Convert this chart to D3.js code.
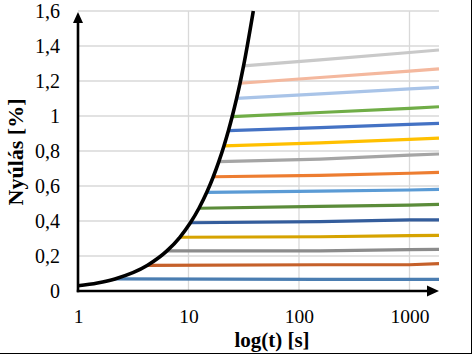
<!DOCTYPE html>
<html>
<head>
<meta charset="utf-8">
<script src="https://cdn.jsdelivr.net/npm/d3@7"></script>
<style>
  html, body { margin: 0; padding: 0; background: #fff; }
  svg { display: block; }
  svg text { font-family: "Liberation Serif", "Times New Roman", "DejaVu Serif", serif; fill: #000; }
</style>
</head>
<body>
<script>
// ---- data ----
const xTicks = [1, 10, 100, 1000];
const yTicks = [0, 0.2, 0.4, 0.6, 0.8, 1, 1.2, 1.4, 1.6];
const yTickLabels = ["0", "0,2", "0,4", "0,6", "0,8", "1", "1,2", "1,4", "1,6"];

// black loading curve
const curveT = [1, 1.5, 2.16, 4.26, 6.38, 8.35, 10.4, 12.44, 14.64, 16.77, 18.81, 20.93, 22.97, 24.83, 27.26, 29.25, 31.5, 38.6];
const curveV = [0.03, 0.046, 0.069, 0.147, 0.229, 0.307, 0.39, 0.473, 0.564, 0.653, 0.739, 0.829, 0.916, 0.996, 1.101, 1.187, 1.286, 1.6];

// creep series: start time, values at start / t=155 / t=1000 / end
const seriesStart = [2.16, 4.26, 6.38, 8.35, 10.4, 12.44, 14.64, 16.77, 18.81, 20.93, 22.97, 24.83, 27.26, 29.25, 31.5];
const sampleT = [155, 1000, 1850];
const sStartV = [0.069, 0.147, 0.229, 0.307, 0.39, 0.473, 0.564, 0.653, 0.739, 0.829, 0.916, 0.996, 1.101, 1.187, 1.286];
const sV155   = [0.067, 0.150, 0.229, 0.310, 0.396, 0.484, 0.571, 0.661, 0.754, 0.846, 0.934, 1.020, 1.126, 1.220, 1.321];
const sV1000  = [0.067, 0.150, 0.236, 0.316, 0.406, 0.491, 0.577, 0.673, 0.776, 0.866, 0.952, 1.044, 1.155, 1.256, 1.363];
const sVEnd   = [0.067, 0.156, 0.238, 0.318, 0.406, 0.495, 0.581, 0.678, 0.783, 0.874, 0.958, 1.053, 1.164, 1.269, 1.377];
const seriesColors = ["#4a7db1", "#c5602a", "#8c8c8c", "#d6a300", "#345d9c", "#5b8c3a", "#5b9bd5", "#ed7d31",
                      "#a5a5a5", "#ffc000", "#4472c4", "#70ad47", "#a9c4e8", "#f4b89e", "#c9c9c9"];

// ---- layout ----
const W = 473, H = 355;
const mLeft = 78, mRight = 439, mTop = 11, mBottom = 291;
const serif = '"Liberation Serif", "Times New Roman", "DejaVu Serif", serif';

const svg = d3.select("body").append("svg").attr("width", W).attr("height", H);

const x = d3.scaleLog().domain([1, 1850]).range([mLeft, mRight]);
const y = d3.scaleLinear().domain([0, 1.6]).range([mBottom, mTop]);

// gridlines
svg.append("g").selectAll("line").data(yTicks.slice(1)).join("line")
  .attr("x1", mLeft).attr("x2", mRight)
  .attr("y1", d => y(d)).attr("y2", d => y(d))
  .attr("stroke", "#d9d9d9").attr("stroke-width", 1.3);
svg.append("g").selectAll("line").data(xTicks.slice(1)).join("line")
  .attr("x1", d => x(d)).attr("x2", d => x(d))
  .attr("y1", mTop).attr("y2", mBottom)
  .attr("stroke", "#d9d9d9").attr("stroke-width", 1.3);

// series
const line = d3.line().x(d => x(d[0])).y(d => y(d[1]));
seriesStart.forEach((t0, i) => {
  const pts = [[t0, sStartV[i]], [sampleT[0], sV155[i]], [sampleT[1], sV1000[i]], [sampleT[2], sVEnd[i]]];
  svg.append("path").attr("d", line(pts))
    .attr("fill", "none").attr("stroke", seriesColors[i]).attr("stroke-width", 3.2);
});

// black curve
const curvePts = curveT.map((t, i) => [t, curveV[i]]);
svg.append("path")
  .attr("d", d3.line().x(d => x(d[0])).y(d => y(d[1])).curve(d3.curveMonotoneX)(curvePts))
  .attr("fill", "none").attr("stroke", "#000").attr("stroke-width", 3.6);

// axes
const axisY = d3.axisLeft(y).tickValues(yTicks).tickFormat((d, i) => yTickLabels[i]).tickSize(0).tickPadding(18);
const gy = svg.append("g").attr("transform", `translate(${mLeft},0)`).call(axisY);
gy.attr("font-family", null).attr("font-size", null);
gy.select(".domain").remove();
gy.selectAll("text").style("font-family", serif).style("font-size", "20px").attr("fill", "#000");

const axisX = d3.axisBottom(x).tickValues(xTicks).tickFormat(d3.format("d")).tickSize(0).tickPadding(18);
const gx = svg.append("g").attr("transform", `translate(0,${mBottom})`).call(axisX);
gx.attr("font-family", null).attr("font-size", null);
gx.select(".domain").remove();
gx.selectAll("text").style("font-family", serif).style("font-size", "19.5px").attr("fill", "#000");

// axis lines with arrows
svg.append("line").attr("x1", mLeft).attr("x2", mLeft).attr("y1", mBottom + 1.2).attr("y2", mTop + 8)
  .attr("stroke", "#000").attr("stroke-width", 2.6);
svg.append("path").attr("d", `M${mLeft},${mTop + 1} L${mLeft - 5},${mTop + 12} L${mLeft + 5},${mTop + 12} Z`).attr("fill", "#000");
svg.append("line").attr("x1", mLeft - 1.2).attr("x2", mRight - 8).attr("y1", mBottom).attr("y2", mBottom)
  .attr("stroke", "#000").attr("stroke-width", 2.6);
svg.append("path").attr("d", `M${mRight},${mBottom} L${mRight - 12},${mBottom - 5.5} L${mRight - 12},${mBottom + 5.5} Z`).attr("fill", "#000");

// titles
svg.append("text").attr("transform", `translate(23,152) rotate(-90)`)
  .attr("text-anchor", "middle")
  .style("font-family", serif)
  .style("font-weight", "bold").style("font-size", "22px").text("Nyúlás [%]");
svg.append("text").attr("x", 272).attr("y", 346.5)
  .attr("text-anchor", "middle")
  .style("font-family", serif)
  .style("font-weight", "bold").style("font-size", "21px").text("log(t) [s]");

// outer border (right and bottom visible)
svg.append("line").attr("x1", 471.5).attr("x2", 471.5).attr("y1", 0).attr("y2", 354)
  .attr("stroke", "#000").attr("stroke-width", 1);
svg.append("line").attr("x1", 0).attr("x2", 472).attr("y1", 353.5).attr("y2", 353.5)
  .attr("stroke", "#000").attr("stroke-width", 1);
</script>
</body>
</html>
